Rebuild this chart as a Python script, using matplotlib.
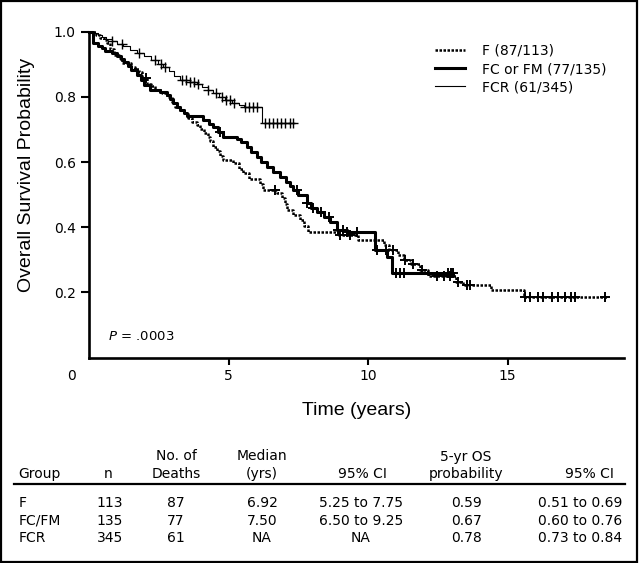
import matplotlib
matplotlib.use("Agg")
import matplotlib.pyplot as plt
import matplotlib.transforms as mtransforms
from matplotlib.patches import Rectangle
from matplotlib.lines import Line2D
import numpy as np

plt.rcParams["font.family"] = "DejaVu Sans"
plt.rcParams["font.size"] = 10

# Kaplan-Meier step points (time in years, survival)
f_time = [0.00, 0.25, 0.40, 0.52, 0.62, 0.75, 0.90, 1.05, 1.19, 1.48, 1.65, 1.77,
          1.90, 2.06, 2.20, 2.36, 2.60, 2.79, 2.95, 3.09, 3.25, 3.38, 3.55, 3.67,
          3.85, 3.97, 4.11, 4.25, 4.33, 4.45, 4.57, 4.70, 4.80, 5.16, 5.35, 5.50,
          5.72, 6.12, 6.24, 6.72, 6.92, 7.00, 7.07, 7.30, 7.55, 7.70, 7.85, 8.90,
          9.65, 10.55, 10.75, 11.05, 11.30, 11.55, 11.85, 12.15, 13.15, 13.40,
          14.40, 15.60, 18.55]
f_surv = [1.000, 0.991, 0.982, 0.973, 0.964, 0.947, 0.929, 0.920, 0.903, 0.893,
          0.885, 0.876, 0.858, 0.841, 0.832, 0.821, 0.812, 0.800, 0.785, 0.770,
          0.760, 0.749, 0.735, 0.724, 0.715, 0.700, 0.688, 0.677, 0.664, 0.645,
          0.633, 0.620, 0.606, 0.596, 0.580, 0.565, 0.549, 0.532, 0.514, 0.504,
          0.490, 0.470, 0.453, 0.437, 0.422, 0.405, 0.386, 0.376, 0.360, 0.345,
          0.330, 0.314, 0.299, 0.288, 0.268, 0.250, 0.233, 0.222, 0.207, 0.187,
          0.187]
f_cens = [2.05, 6.65, 8.98, 9.34, 10.90, 11.32, 11.62, 11.92, 12.46, 12.70, 12.93,
          13.23, 13.53, 13.65, 15.62, 15.80, 16.08, 16.25, 16.60, 16.82, 17.05,
          17.27, 17.42, 18.50]

fc_time = [0.00, 0.12, 0.30, 0.45, 0.58, 0.80, 0.98, 1.12, 1.25, 1.40, 1.50, 1.70,
           1.85, 1.95, 2.18, 2.53, 2.77, 2.90, 3.01, 3.15, 3.25, 3.38, 3.49, 4.09,
           4.30, 4.45, 4.62, 4.80, 5.28, 5.45, 5.64, 5.80, 6.00, 6.15, 6.36, 6.60,
           6.84, 7.05, 7.18, 7.31, 7.50, 7.79, 7.95, 8.15, 8.40, 8.63, 8.87, 9.23,
           10.24, 10.66, 10.84, 13.05]
fc_surv = [1.000, 0.964, 0.957, 0.950, 0.942, 0.934, 0.925, 0.917, 0.908, 0.895,
           0.882, 0.867, 0.852, 0.836, 0.821, 0.816, 0.806, 0.793, 0.780, 0.770,
           0.760, 0.750, 0.740, 0.729, 0.718, 0.708, 0.693, 0.678, 0.670, 0.660,
           0.647, 0.632, 0.616, 0.601, 0.586, 0.570, 0.555, 0.540, 0.527, 0.514,
           0.500, 0.473, 0.460, 0.447, 0.430, 0.417, 0.391, 0.386, 0.330, 0.309,
           0.260, 0.260]
fc_cens = [4.70, 7.43, 7.79, 8.03, 8.30, 8.60, 8.93, 9.10, 9.25, 9.60, 10.30,
           10.65, 11.00, 11.15, 11.30, 12.85, 12.95, 13.05]

fcr_time = [0.00, 0.15, 0.30, 0.45, 0.60, 0.80, 1.00, 1.20, 1.45, 1.70, 1.95, 2.20,
            2.45, 2.65, 2.85, 3.05, 3.25, 3.60, 3.85, 4.05, 4.25, 4.45, 4.65, 4.85,
            5.10, 5.35, 5.55, 6.20, 7.33]
fcr_surv = [1.000, 0.995, 0.990, 0.983, 0.977, 0.970, 0.962, 0.955, 0.945, 0.935,
            0.925, 0.912, 0.902, 0.893, 0.880, 0.865, 0.852, 0.845, 0.838, 0.830,
            0.820, 0.812, 0.800, 0.790, 0.782, 0.775, 0.768, 0.720, 0.720]
fcr_cens = [0.82, 1.19, 1.77, 2.35, 2.58, 2.72, 3.31, 3.45, 3.60, 3.74, 3.89, 4.26,
            4.55, 4.77, 4.91, 5.06, 5.20, 5.57, 5.72, 5.86, 6.01, 6.30, 6.45, 6.60,
            6.74, 6.89, 7.03, 7.18, 7.30]

legend_labels = ["F (87/113)", "FC or FM (77/135)", "FCR (61/345)"]
x_ticks = [0, 5, 10, 15]
y_ticks = [0.2, 0.4, 0.6, 0.8, 1.0]
y_ticklabels = ["0.2", "0.4", "0.6", "0.8", "1.0"]
p_text = ".0003"

# table below the chart
tab_header1 = ["", "", "No. of", "Median", "", "5-yr OS", ""]
tab_header2 = ["Group", "n", "Deaths", "(yrs)", "95% CI", "probability", "95% CI"]
tab_group = ["F", "FC/FM", "FCR"]
tab_n = ["113", "135", "345"]
tab_deaths = ["87", "77", "61"]
tab_median = ["6.92", "7.50", "NA"]
tab_ci_median = ["5.25 to 7.75", "6.50 to 9.25", "NA"]
tab_os5 = ["0.59", "0.67", "0.78"]
tab_ci_os5 = ["0.51 to 0.69", "0.60 to 0.76", "0.73 to 0.84"]

W, H = 640, 563
fig = plt.figure(figsize=(W / 100, H / 100), dpi=100)
ax = fig.add_axes([89.3 / W, 1 - 357.5 / H, (624 - 89.3) / W, (357.5 - 31.7) / H])

styles = [
    dict(color="black", lw=1.8, ls=(0, (1.0, 0.6)), mew=1.4),
    dict(color="black", lw=2.2, ls="solid", mew=1.4),
    dict(color="black", lw=0.8, ls="solid", mew=1.0),
]
series = [
    (f_time, f_surv, f_cens),
    (fc_time, fc_surv, fc_cens),
    (fcr_time, fcr_surv, fcr_cens),
]

handles = []
for (t, s, c), st, lab in zip(series, styles, legend_labels):
    t = np.array(t)
    s = np.array(s)
    ax.step(t, s, where="post", color=st["color"], lw=st["lw"], ls=st["ls"],
            clip_on=False, zorder=3)
    idx = np.searchsorted(t, np.array(c), side="right") - 1
    ax.plot(c, s[idx], ls="none", marker="+", ms=6.5, mew=st["mew"],
            color="black", clip_on=False, zorder=4)
    handles.append(Line2D([], [], color=st["color"], lw=st["lw"], ls=st["ls"]))

ax.set_xlim(0, 19.17)
ax.set_ylim(0, 1.0)

for side in ["top", "right"]:
    ax.spines[side].set_visible(False)
for side in ["left", "bottom"]:
    ax.spines[side].set_linewidth(1.9)

ax.set_xticks(x_ticks)
ax.set_xticklabels([str(v) for v in x_ticks])
ax.set_yticks(y_ticks)
ax.set_yticklabels(y_ticklabels)
ax.tick_params(axis="x", length=5, width=1.5, pad=3, labelsize=10)
ax.tick_params(axis="y", length=5.5, width=1.5, pad=4.3, labelsize=10)
# origin label sits left of the corner, without a tick mark
first = ax.xaxis.get_major_ticks()[0]
first.tick1line.set_visible(False)
off = mtransforms.ScaledTranslation(-17.6 / 100, 0, fig.dpi_scale_trans)
first.label1.set_transform(first.label1.get_transform() + off)

ax.set_ylabel("Overall Survival Probability", fontsize=14,
              family="Liberation Sans", va="center")
ax.yaxis.set_label_coords(-0.118, 0.56)
ax.set_xlabel("Time (years)", fontsize=14, family="Liberation Sans", va="center")
ax.xaxis.set_label_coords(0.5, -0.164)

ax.legend(
    handles,
    legend_labels,
    loc="upper left",
    bbox_to_anchor=(0.6465, 0.9626),
    frameon=False,
    fontsize=10,
    handlelength=2.16,
    handletextpad=1.2,
    labelspacing=0.30,
    borderpad=0,
    borderaxespad=0,
)

ax.text(0.0355, 0.064, "$\\it{P}$ = " + p_text, transform=ax.transAxes,
        fontsize=9.5, va="center", ha="left")


def px(x, y):
    return x / W, 1 - y / H


col_x = [18.3, 110, 176, 262, 361, 467, 622]
col_ha = ["left", "center", "center", "center", "center", "center", "right"]
head2_x = [18.3, 108, 176, 262, 362, 466, 613.5]
head2_ha = ["left", "center", "center", "center", "center", "center", "right"]

for txt, x, ha in zip(tab_header1, head2_x, head2_ha):
    if txt:
        fig.text(*px(x, 460.5), txt, ha=ha, va="baseline", fontsize=10)
for txt, x, ha in zip(tab_header2, head2_x, head2_ha):
    fig.text(*px(x, 478.3), txt, ha=ha, va="baseline", fontsize=10)

fig.add_artist(Line2D([14.3 / W, 624.5 / W], [1 - 484.3 / H, 1 - 484.3 / H],
                      color="black", lw=1.6, transform=fig.transFigure))

row_y = [506.7, 524.8, 542.5]
columns = [tab_group, tab_n, tab_deaths, tab_median, tab_ci_median, tab_os5, tab_ci_os5]
for col, x, ha in zip(columns, col_x, col_ha):
    for txt, y in zip(col, row_y):
        fig.text(*px(x, y), txt, ha=ha, va="baseline", fontsize=10)

# outer frame
fig.add_artist(Rectangle((1 / W, 1 / H), 636 / W, 561 / H, fill=False,
                         edgecolor="black", lw=1.6, transform=fig.transFigure))

fig.savefig("out.png", dpi=100)
